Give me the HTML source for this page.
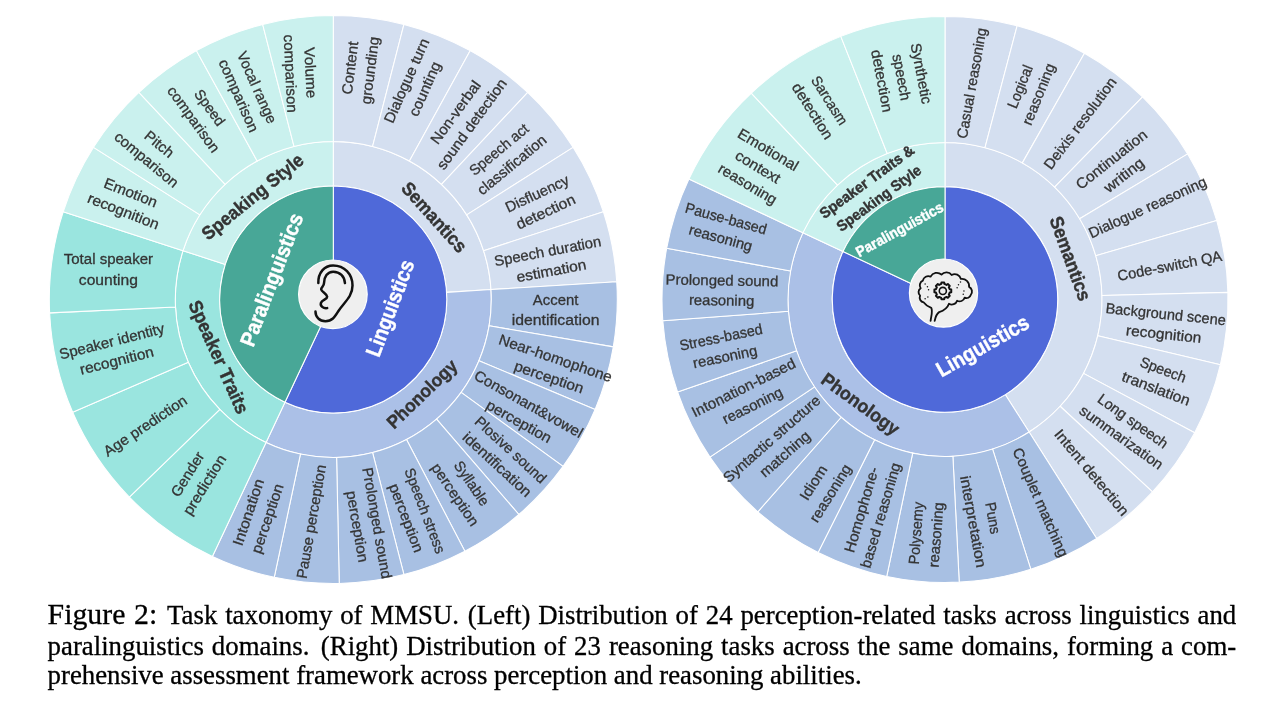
<!DOCTYPE html>
<html lang="en"><head><meta charset="utf-8"><title>Figure 2: Task taxonomy of MMSU</title>
<style>
html,body{margin:0;padding:0;background:#fff}
body{width:1274px;height:702px;position:relative;overflow:hidden}
svg{position:absolute;left:0;top:0;display:block}
text{font-family:"Liberation Sans",sans-serif;text-anchor:middle}
text.t{stroke-width:0.3px}
text.b{font-weight:bold;stroke-width:0.4px}
.cap{position:absolute;left:47.6px;width:1188.6px;-webkit-text-stroke:0.3px #000;font-family:"Liberation Serif",serif;font-size:26.8px;color:#000;white-space:nowrap;text-align:justify;text-align-last:justify;line-height:30px;height:30px}
.cap.last{text-align:left;text-align-last:left}
.cap .lab{font-size:29.8px;margin-right:2.5px}
</style></head><body>
<svg width="1274" height="702" viewBox="0 0 1274 702"><g stroke="#fff" stroke-width="1.05" stroke-linejoin="round"><path d="M333.30 141.50A158.0 158.0 0 0 1 490.99 289.58L446.58 292.37A113.5 113.5 0 0 0 333.30 186.00Z" fill="#D4DFF0"/><path d="M333.30 15.50A284.0 284.0 0 0 1 403.93 24.42L372.59 146.46A158.0 158.0 0 0 0 333.30 141.50Z" fill="#D4DFF0"/><path d="M403.93 24.42A284.0 284.0 0 0 1 470.12 50.63L409.42 161.04A158.0 158.0 0 0 0 372.59 146.46Z" fill="#D4DFF0"/><path d="M470.12 50.63A284.0 284.0 0 0 1 527.71 92.47L441.46 184.32A158.0 158.0 0 0 0 409.42 161.04Z" fill="#D4DFF0"/><path d="M527.71 92.47A284.0 284.0 0 0 1 573.09 147.33L466.70 214.84A158.0 158.0 0 0 0 441.46 184.32Z" fill="#D4DFF0"/><path d="M573.09 147.33A284.0 284.0 0 0 1 603.40 211.74L483.57 250.68A158.0 158.0 0 0 0 466.70 214.84Z" fill="#D4DFF0"/><path d="M603.40 211.74A284.0 284.0 0 0 1 616.74 281.67L490.99 289.58A158.0 158.0 0 0 0 483.57 250.68Z" fill="#D4DFF0"/><path d="M490.99 289.58A158.0 158.0 0 0 1 266.03 442.46L284.97 402.20A113.5 113.5 0 0 0 446.58 292.37Z" fill="#ABC0E7"/><path d="M616.74 281.67A284.0 284.0 0 0 1 613.32 346.86L489.09 325.85A158.0 158.0 0 0 0 490.99 289.58Z" fill="#A8C0E3"/><path d="M613.32 346.86A284.0 284.0 0 0 1 595.11 409.55L478.95 360.73A158.0 158.0 0 0 0 489.09 325.85Z" fill="#A8C0E3"/><path d="M595.11 409.55A284.0 284.0 0 0 1 563.06 466.43L461.12 392.37A158.0 158.0 0 0 0 478.95 360.73Z" fill="#A8C0E3"/><path d="M563.06 466.43A284.0 284.0 0 0 1 518.87 514.49L436.54 419.11A158.0 158.0 0 0 0 461.12 392.37Z" fill="#A8C0E3"/><path d="M518.87 514.49A284.0 284.0 0 0 1 464.88 551.18L406.50 439.52A158.0 158.0 0 0 0 436.54 419.11Z" fill="#A8C0E3"/><path d="M464.88 551.18A284.0 284.0 0 0 1 403.93 574.58L372.59 452.54A158.0 158.0 0 0 0 406.50 439.52Z" fill="#A8C0E3"/><path d="M403.93 574.58A284.0 284.0 0 0 1 339.25 583.44L336.61 457.47A158.0 158.0 0 0 0 372.59 452.54Z" fill="#A8C0E3"/><path d="M339.25 583.44A284.0 284.0 0 0 1 274.25 577.29L300.45 454.05A158.0 158.0 0 0 0 336.61 457.47Z" fill="#A8C0E3"/><path d="M274.25 577.29A284.0 284.0 0 0 1 212.38 556.47L266.03 442.46A158.0 158.0 0 0 0 300.45 454.05Z" fill="#A8C0E3"/><path d="M266.03 442.46A158.0 158.0 0 0 1 183.03 250.68L225.36 264.43A113.5 113.5 0 0 0 284.97 402.20Z" fill="#9AE5DF"/><path d="M212.38 556.47A284.0 284.0 0 0 1 129.35 497.14L219.84 409.45A158.0 158.0 0 0 0 266.03 442.46Z" fill="#9AE5DF"/><path d="M129.35 497.14A284.0 284.0 0 0 1 72.66 412.29L188.29 362.25A158.0 158.0 0 0 0 219.84 409.45Z" fill="#9AE5DF"/><path d="M72.66 412.29A284.0 284.0 0 0 1 49.62 312.88L175.48 306.94A158.0 158.0 0 0 0 188.29 362.25Z" fill="#9AE5DF"/><path d="M49.62 312.88A284.0 284.0 0 0 1 63.20 211.74L183.03 250.68A158.0 158.0 0 0 0 175.48 306.94Z" fill="#9AE5DF"/><path d="M183.03 250.68A158.0 158.0 0 0 1 333.30 141.50L333.30 186.00A113.5 113.5 0 0 0 225.36 264.43Z" fill="#CAF1EE"/><path d="M63.20 211.74A284.0 284.0 0 0 1 93.51 147.33L199.90 214.84A158.0 158.0 0 0 0 183.03 250.68Z" fill="#CAF1EE"/><path d="M93.51 147.33A284.0 284.0 0 0 1 138.89 92.47L225.14 184.32A158.0 158.0 0 0 0 199.90 214.84Z" fill="#CAF1EE"/><path d="M138.89 92.47A284.0 284.0 0 0 1 196.48 50.63L257.18 161.04A158.0 158.0 0 0 0 225.14 184.32Z" fill="#CAF1EE"/><path d="M196.48 50.63A284.0 284.0 0 0 1 262.67 24.42L294.01 146.46A158.0 158.0 0 0 0 257.18 161.04Z" fill="#CAF1EE"/><path d="M262.67 24.42A284.0 284.0 0 0 1 333.30 15.50L333.30 141.50A158.0 158.0 0 0 0 294.01 146.46Z" fill="#CAF1EE"/><path d="M333.30 299.50L333.30 186.00A113.5 113.5 0 1 1 284.97 402.20Z" fill="#4F69D9"/><path d="M333.30 299.50L284.97 402.20A113.5 113.5 0 0 1 333.30 186.00Z" fill="#48A797"/><path d="M945.00 142.50A157.0 157.0 0 0 1 1029.12 432.06L1005.39 394.66A112.7 112.7 0 0 0 945.00 186.80Z" fill="#D4DFF0"/><path d="M945.00 16.50A283.0 283.0 0 0 1 1017.10 25.84L985.00 147.68A157.0 157.0 0 0 0 945.00 142.50Z" fill="#D4DFF0"/><path d="M1017.10 25.84A283.0 283.0 0 0 1 1084.44 53.24L1022.36 162.88A157.0 157.0 0 0 0 985.00 147.68Z" fill="#D4DFF0"/><path d="M1084.44 53.24A283.0 283.0 0 0 1 1142.58 96.89L1054.61 187.10A157.0 157.0 0 0 0 1022.36 162.88Z" fill="#D4DFF0"/><path d="M1142.58 96.89A283.0 283.0 0 0 1 1187.68 153.91L1079.63 218.73A157.0 157.0 0 0 0 1054.61 187.10Z" fill="#D4DFF0"/><path d="M1187.68 153.91A283.0 283.0 0 0 1 1216.76 220.55L1095.77 255.70A157.0 157.0 0 0 0 1079.63 218.73Z" fill="#D4DFF0"/><path d="M1216.76 220.55A283.0 283.0 0 0 1 1227.91 292.39L1101.95 295.55A157.0 157.0 0 0 0 1095.77 255.70Z" fill="#D4DFF0"/><path d="M1227.91 292.39A283.0 283.0 0 0 1 1220.39 364.70L1097.78 335.67A157.0 157.0 0 0 0 1101.95 295.55Z" fill="#D4DFF0"/><path d="M1220.39 364.70A283.0 283.0 0 0 1 1194.69 432.71L1083.52 373.40A157.0 157.0 0 0 0 1097.78 335.67Z" fill="#D4DFF0"/><path d="M1194.69 432.71A283.0 283.0 0 0 1 1152.51 491.93L1060.12 406.25A157.0 157.0 0 0 0 1083.52 373.40Z" fill="#D4DFF0"/><path d="M1152.51 491.93A283.0 283.0 0 0 1 1096.64 538.44L1029.12 432.06A157.0 157.0 0 0 0 1060.12 406.25Z" fill="#D4DFF0"/><path d="M1029.12 432.06A157.0 157.0 0 0 1 802.94 232.65L843.03 251.51A112.7 112.7 0 0 0 1005.39 394.66Z" fill="#ABC0E7"/><path d="M1096.64 538.44A283.0 283.0 0 0 1 1030.76 569.19L992.58 449.12A157.0 157.0 0 0 0 1029.12 432.06Z" fill="#A8C0E3"/><path d="M1030.76 569.19A283.0 283.0 0 0 1 959.22 582.14L952.89 456.30A157.0 157.0 0 0 0 992.58 449.12Z" fill="#A8C0E3"/><path d="M959.22 582.14A283.0 283.0 0 0 1 886.74 576.44L912.68 453.14A157.0 157.0 0 0 0 952.89 456.30Z" fill="#A8C0E3"/><path d="M886.74 576.44A283.0 283.0 0 0 1 818.11 552.46L874.60 439.83A157.0 157.0 0 0 0 912.68 453.14Z" fill="#A8C0E3"/><path d="M818.11 552.46A283.0 283.0 0 0 1 757.85 511.78L841.17 417.27A157.0 157.0 0 0 0 874.60 439.83Z" fill="#A8C0E3"/><path d="M757.85 511.78A283.0 283.0 0 0 1 709.94 457.10L814.60 386.93A157.0 157.0 0 0 0 841.17 417.27Z" fill="#A8C0E3"/><path d="M709.94 457.10A283.0 283.0 0 0 1 677.55 392.01L796.63 350.82A157.0 157.0 0 0 0 814.60 386.93Z" fill="#A8C0E3"/><path d="M677.55 392.01A283.0 283.0 0 0 1 662.80 320.82L788.45 311.33A157.0 157.0 0 0 0 796.63 350.82Z" fill="#A8C0E3"/><path d="M662.80 320.82A283.0 283.0 0 0 1 666.69 248.22L790.60 271.05A157.0 157.0 0 0 0 788.45 311.33Z" fill="#A8C0E3"/><path d="M666.69 248.22A283.0 283.0 0 0 1 688.93 179.00L802.94 232.65A157.0 157.0 0 0 0 790.60 271.05Z" fill="#A8C0E3"/><path d="M802.94 232.65A157.0 157.0 0 0 1 945.00 142.50L945.00 186.80A112.7 112.7 0 0 0 843.03 251.51Z" fill="#CAF1EE"/><path d="M688.93 179.00A283.0 283.0 0 0 1 751.27 93.20L837.53 185.05A157.0 157.0 0 0 0 802.94 232.65Z" fill="#CAF1EE"/><path d="M751.27 93.20A283.0 283.0 0 0 1 840.82 36.37L887.20 153.53A157.0 157.0 0 0 0 837.53 185.05Z" fill="#CAF1EE"/><path d="M840.82 36.37A283.0 283.0 0 0 1 945.00 16.50L945.00 142.50A157.0 157.0 0 0 0 887.20 153.53Z" fill="#CAF1EE"/><path d="M945.00 299.50L945.00 186.80A112.7 112.7 0 1 1 843.03 251.51Z" fill="#4F69D9"/><path d="M945.00 299.50L843.03 251.51A112.7 112.7 0 0 1 945.00 186.80Z" fill="#48A797"/></g><g transform="translate(359.9 69.2) rotate(-82.8)"><text class="t" y="-4.9" font-size="14.76" fill="#343434" stroke="#343434" textLength="53.3" lengthAdjust="spacingAndGlyphs">Content</text><text class="t" y="15.1" font-size="14.76" fill="#343434" stroke="#343434" textLength="67.8" lengthAdjust="spacingAndGlyphs">grounding</text></g><g transform="translate(415.6 84.8) rotate(-66.0)"><text class="t" y="-4.9" font-size="14.76" fill="#343434" stroke="#343434" textLength="90.8" lengthAdjust="spacingAndGlyphs">Dialogue turn</text><text class="t" y="15.1" font-size="14.76" fill="#343434" stroke="#343434" textLength="58.0" lengthAdjust="spacingAndGlyphs">counting</text></g><g transform="translate(463.6 118.1) rotate(-54.0)"><text class="t" y="-4.9" font-size="14.76" fill="#343434" stroke="#343434" textLength="74.1" lengthAdjust="spacingAndGlyphs">Non-verbal</text><text class="t" y="15.1" font-size="14.76" fill="#343434" stroke="#343434" textLength="108.1" lengthAdjust="spacingAndGlyphs">sound detection</text></g><g transform="translate(505.3 157.1) rotate(-39.6)"><text class="t" y="-4.9" font-size="14.76" fill="#343434" stroke="#343434" textLength="72.0" lengthAdjust="spacingAndGlyphs">Speech act</text><text class="t" y="15.1" font-size="14.76" fill="#343434" stroke="#343434" textLength="84.7" lengthAdjust="spacingAndGlyphs">classification</text></g><g transform="translate(541.4 202.6) rotate(-25.2)"><text class="t" y="-4.9" font-size="14.76" fill="#343434" stroke="#343434" textLength="68.5" lengthAdjust="spacingAndGlyphs">Disfluency</text><text class="t" y="15.1" font-size="14.76" fill="#343434" stroke="#343434" textLength="63.5" lengthAdjust="spacingAndGlyphs">detection</text></g><g transform="translate(549.5 260.9) rotate(-10.8)"><text class="t" y="-4.9" font-size="14.76" fill="#343434" stroke="#343434" textLength="108.5" lengthAdjust="spacingAndGlyphs">Speech duration</text><text class="t" y="15.1" font-size="14.76" fill="#343434" stroke="#343434" textLength="70.7" lengthAdjust="spacingAndGlyphs">estimation</text></g><g transform="translate(555.6 309.7) rotate(0.0)"><text class="t" y="-4.9" font-size="14.76" fill="#343434" stroke="#343434" textLength="45.5" lengthAdjust="spacingAndGlyphs">Accent</text><text class="t" y="15.1" font-size="14.76" fill="#343434" stroke="#343434" textLength="87.7" lengthAdjust="spacingAndGlyphs">identification</text></g><g transform="translate(552.3 367.6) rotate(19.0)"><text class="t" y="-4.9" font-size="14.76" fill="#343434" stroke="#343434" textLength="118.5" lengthAdjust="spacingAndGlyphs">Near-homophone</text><text class="t" y="15.1" font-size="14.76" fill="#343434" stroke="#343434" textLength="72.3" lengthAdjust="spacingAndGlyphs">perception</text></g><g transform="translate(523.8 412.7) rotate(29.4)"><text class="t" y="-4.9" font-size="14.76" fill="#343434" stroke="#343434" textLength="122.0" lengthAdjust="spacingAndGlyphs">Consonant&amp;vowel</text><text class="t" y="15.1" font-size="14.76" fill="#343434" stroke="#343434" textLength="72.3" lengthAdjust="spacingAndGlyphs">perception</text></g><g transform="translate(504.0 457.1) rotate(42.6)"><text class="t" y="-4.9" font-size="14.76" fill="#343434" stroke="#343434" textLength="91.1" lengthAdjust="spacingAndGlyphs">Plosive sound</text><text class="t" y="15.1" font-size="14.76" fill="#343434" stroke="#343434" textLength="87.7" lengthAdjust="spacingAndGlyphs">identification</text></g><g transform="translate(463.5 488.9) rotate(55.8)"><text class="t" y="-4.9" font-size="14.76" fill="#343434" stroke="#343434" textLength="50.7" lengthAdjust="spacingAndGlyphs">Syllable</text><text class="t" y="15.1" font-size="14.76" fill="#343434" stroke="#343434" textLength="72.3" lengthAdjust="spacingAndGlyphs">perception</text></g><g transform="translate(415.7 514.3) rotate(69.0)"><text class="t" y="-4.9" font-size="14.76" fill="#343434" stroke="#343434" textLength="89.9" lengthAdjust="spacingAndGlyphs">Speech stress</text><text class="t" y="15.1" font-size="14.76" fill="#343434" stroke="#343434" textLength="72.3" lengthAdjust="spacingAndGlyphs">perception</text></g><g transform="translate(367.3 524.7) rotate(80.0)"><text class="t" y="-4.9" font-size="14.76" fill="#343434" stroke="#343434" textLength="112.6" lengthAdjust="spacingAndGlyphs">Prolonged sound</text><text class="t" y="15.1" font-size="14.76" fill="#343434" stroke="#343434" textLength="72.3" lengthAdjust="spacingAndGlyphs">perception</text></g><g transform="translate(311.2 521.6) rotate(-80.2)"><text class="t" y="5.1" font-size="14.76" fill="#343434" stroke="#343434" textLength="115.2" lengthAdjust="spacingAndGlyphs">Pause perception</text></g><g transform="translate(257.8 515.4) rotate(-71.4)"><text class="t" y="-4.9" font-size="14.76" fill="#343434" stroke="#343434" textLength="69.3" lengthAdjust="spacingAndGlyphs">Intonation</text><text class="t" y="15.1" font-size="14.76" fill="#343434" stroke="#343434" textLength="72.3" lengthAdjust="spacingAndGlyphs">perception</text></g><g transform="translate(196.0 479.5) rotate(-58.0)"><text class="t" y="-4.9" font-size="14.76" fill="#343434" stroke="#343434" textLength="49.6" lengthAdjust="spacingAndGlyphs">Gender</text><text class="t" y="15.1" font-size="14.76" fill="#343434" stroke="#343434" textLength="68.0" lengthAdjust="spacingAndGlyphs">prediction</text></g><g transform="translate(145.2 425.7) rotate(-33.8)"><text class="t" y="5.1" font-size="14.76" fill="#343434" stroke="#343434" textLength="96.9" lengthAdjust="spacingAndGlyphs">Age prediction</text></g><g transform="translate(114.2 350.9) rotate(-14.3)"><text class="t" y="-4.9" font-size="14.76" fill="#343434" stroke="#343434" textLength="107.7" lengthAdjust="spacingAndGlyphs">Speaker identity</text><text class="t" y="15.1" font-size="14.76" fill="#343434" stroke="#343434" textLength="75.6" lengthAdjust="spacingAndGlyphs">recognition</text></g><g transform="translate(108.4 269.4) rotate(0.0)"><text class="t" y="-5.2" font-size="15.03" fill="#343434" stroke="#343434" textLength="89.3" lengthAdjust="spacingAndGlyphs">Total speaker</text><text class="t" y="15.6" font-size="15.03" fill="#343434" stroke="#343434" textLength="59.1" lengthAdjust="spacingAndGlyphs">counting</text></g><g transform="translate(127.1 201.8) rotate(21.5)"><text class="t" y="-4.9" font-size="14.76" fill="#343434" stroke="#343434" textLength="56.2" lengthAdjust="spacingAndGlyphs">Emotion</text><text class="t" y="15.1" font-size="14.76" fill="#343434" stroke="#343434" textLength="75.6" lengthAdjust="spacingAndGlyphs">recognition</text></g><g transform="translate(153.0 151.8) rotate(39.6)"><text class="t" y="-4.9" font-size="14.76" fill="#343434" stroke="#343434" textLength="33.1" lengthAdjust="spacingAndGlyphs">Pitch</text><text class="t" y="15.1" font-size="14.76" fill="#343434" stroke="#343434" textLength="78.2" lengthAdjust="spacingAndGlyphs">comparison</text></g><g transform="translate(201.7 113.4) rotate(54.0)"><text class="t" y="-4.9" font-size="14.76" fill="#343434" stroke="#343434" textLength="41.1" lengthAdjust="spacingAndGlyphs">Speed</text><text class="t" y="15.1" font-size="14.76" fill="#343434" stroke="#343434" textLength="78.2" lengthAdjust="spacingAndGlyphs">comparison</text></g><g transform="translate(247.9 91.5) rotate(66.0)"><text class="t" y="-4.9" font-size="14.76" fill="#343434" stroke="#343434" textLength="77.0" lengthAdjust="spacingAndGlyphs">Vocal range</text><text class="t" y="15.1" font-size="14.76" fill="#343434" stroke="#343434" textLength="78.2" lengthAdjust="spacingAndGlyphs">comparison</text></g><g transform="translate(300.6 73.2) rotate(87.3)"><text class="t" y="-4.9" font-size="14.76" fill="#343434" stroke="#343434" textLength="50.9" lengthAdjust="spacingAndGlyphs">Volume</text><text class="t" y="15.1" font-size="14.76" fill="#343434" stroke="#343434" textLength="78.2" lengthAdjust="spacingAndGlyphs">comparison</text></g><g transform="translate(971.7 83.2) rotate(-79.8)"><text class="t" y="5.1" font-size="14.76" fill="#343434" stroke="#343434" textLength="112.3" lengthAdjust="spacingAndGlyphs">Casual reasoning</text></g><g transform="translate(1029.2 90.4) rotate(-67.9)"><text class="t" y="-4.9" font-size="14.76" fill="#343434" stroke="#343434" textLength="45.4" lengthAdjust="spacingAndGlyphs">Logical</text><text class="t" y="15.1" font-size="14.76" fill="#343434" stroke="#343434" textLength="65.3" lengthAdjust="spacingAndGlyphs">reasoning</text></g><g transform="translate(1080.1 123.2) rotate(-53.1)"><text class="t" y="5.1" font-size="14.76" fill="#343434" stroke="#343434" textLength="110.5" lengthAdjust="spacingAndGlyphs">Deixis resolution</text></g><g transform="translate(1117.6 167.3) rotate(-38.3)"><text class="t" y="-4.9" font-size="14.76" fill="#343434" stroke="#343434" textLength="86.3" lengthAdjust="spacingAndGlyphs">Continuation</text><text class="t" y="15.1" font-size="14.76" fill="#343434" stroke="#343434" textLength="46.7" lengthAdjust="spacingAndGlyphs">writing</text></g><g transform="translate(1147.5 207.2) rotate(-24.6)"><text class="t" y="5.1" font-size="14.76" fill="#343434" stroke="#343434" textLength="127.6" lengthAdjust="spacingAndGlyphs">Dialogue reasoning</text></g><g transform="translate(1169.7 265.8) rotate(-11.0)"><text class="t" y="5.1" font-size="14.76" fill="#343434" stroke="#343434" textLength="106.1" lengthAdjust="spacingAndGlyphs">Code-switch QA</text></g><g transform="translate(1164.7 324.0) rotate(5.9)"><text class="t" y="-4.9" font-size="14.76" fill="#343434" stroke="#343434" textLength="120.8" lengthAdjust="spacingAndGlyphs">Background scene</text><text class="t" y="15.1" font-size="14.76" fill="#343434" stroke="#343434" textLength="75.6" lengthAdjust="spacingAndGlyphs">recognition</text></g><g transform="translate(1159.6 379.0) rotate(20.7)"><text class="t" y="-4.9" font-size="14.76" fill="#343434" stroke="#343434" textLength="48.0" lengthAdjust="spacingAndGlyphs">Speech</text><text class="t" y="15.1" font-size="14.76" fill="#343434" stroke="#343434" textLength="71.6" lengthAdjust="spacingAndGlyphs">translation</text></g><g transform="translate(1127.2 429.2) rotate(35.5)"><text class="t" y="-4.9" font-size="14.76" fill="#343434" stroke="#343434" textLength="82.5" lengthAdjust="spacingAndGlyphs">Long speech</text><text class="t" y="15.1" font-size="14.76" fill="#343434" stroke="#343434" textLength="98.9" lengthAdjust="spacingAndGlyphs">summarization</text></g><g transform="translate(1091.8 472.4) rotate(50.2)"><text class="t" y="5.1" font-size="14.76" fill="#343434" stroke="#343434" textLength="107.2" lengthAdjust="spacingAndGlyphs">Intent detection</text></g><g transform="translate(1040.6 502.3) rotate(66.3)"><text class="t" y="5.1" font-size="14.76" fill="#343434" stroke="#343434" textLength="117.4" lengthAdjust="spacingAndGlyphs">Couplet matching</text></g><g transform="translate(983.2 519.8) rotate(79.7)"><text class="t" y="-4.9" font-size="14.76" fill="#343434" stroke="#343434" textLength="32.1" lengthAdjust="spacingAndGlyphs">Puns</text><text class="t" y="15.1" font-size="14.76" fill="#343434" stroke="#343434" textLength="93.0" lengthAdjust="spacingAndGlyphs">interpretation</text></g><g transform="translate(926.0 534.0) rotate(-85.5)"><text class="t" y="-4.9" font-size="14.76" fill="#343434" stroke="#343434" textLength="62.6" lengthAdjust="spacingAndGlyphs">Polysemy</text><text class="t" y="15.1" font-size="14.76" fill="#343434" stroke="#343434" textLength="65.3" lengthAdjust="spacingAndGlyphs">reasoning</text></g><g transform="translate(871.0 512.5) rotate(-73.5)"><text class="t" y="-4.9" font-size="14.76" fill="#343434" stroke="#343434" textLength="88.3" lengthAdjust="spacingAndGlyphs">Homophone-</text><text class="t" y="15.1" font-size="14.76" fill="#343434" stroke="#343434" textLength="108.7" lengthAdjust="spacingAndGlyphs">based reasoning</text></g><g transform="translate(821.8 487.9) rotate(-58.0)"><text class="t" y="-4.9" font-size="14.76" fill="#343434" stroke="#343434" textLength="38.3" lengthAdjust="spacingAndGlyphs">Idiom</text><text class="t" y="15.1" font-size="14.76" fill="#343434" stroke="#343434" textLength="65.3" lengthAdjust="spacingAndGlyphs">reasoning</text></g><g transform="translate(778.2 446.4) rotate(-41.2)"><text class="t" y="-4.9" font-size="14.76" fill="#343434" stroke="#343434" textLength="123.8" lengthAdjust="spacingAndGlyphs">Syntactic structure</text><text class="t" y="15.1" font-size="14.76" fill="#343434" stroke="#343434" textLength="61.7" lengthAdjust="spacingAndGlyphs">matching</text></g><g transform="translate(748.0 396.5) rotate(-26.5)"><text class="t" y="-4.9" font-size="14.76" fill="#343434" stroke="#343434" textLength="114.0" lengthAdjust="spacingAndGlyphs">Intonation-based</text><text class="t" y="15.1" font-size="14.76" fill="#343434" stroke="#343434" textLength="65.3" lengthAdjust="spacingAndGlyphs">reasoning</text></g><g transform="translate(723.0 346.9) rotate(-11.7)"><text class="t" y="-4.9" font-size="14.76" fill="#343434" stroke="#343434" textLength="84.2" lengthAdjust="spacingAndGlyphs">Stress-based</text><text class="t" y="15.1" font-size="14.76" fill="#343434" stroke="#343434" textLength="65.3" lengthAdjust="spacingAndGlyphs">reasoning</text></g><g transform="translate(721.8 290.3) rotate(1.0)"><text class="t" y="-4.9" font-size="14.76" fill="#343434" stroke="#343434" textLength="112.6" lengthAdjust="spacingAndGlyphs">Prolonged sound</text><text class="t" y="15.1" font-size="14.76" fill="#343434" stroke="#343434" textLength="65.3" lengthAdjust="spacingAndGlyphs">reasoning</text></g><g transform="translate(723.4 228.1) rotate(15.5)"><text class="t" y="-4.9" font-size="14.76" fill="#343434" stroke="#343434" textLength="83.8" lengthAdjust="spacingAndGlyphs">Pause-based</text><text class="t" y="15.1" font-size="14.76" fill="#343434" stroke="#343434" textLength="65.3" lengthAdjust="spacingAndGlyphs">reasoning</text></g><g transform="translate(758.0 166.8) rotate(31.0)"><text class="t" y="-14.9" font-size="14.76" fill="#343434" stroke="#343434" textLength="67.8" lengthAdjust="spacingAndGlyphs">Emotional</text><text class="t" y="5.1" font-size="14.76" fill="#343434" stroke="#343434" textLength="49.8" lengthAdjust="spacingAndGlyphs">context</text><text class="t" y="25.1" font-size="14.76" fill="#343434" stroke="#343434" textLength="65.3" lengthAdjust="spacingAndGlyphs">reasoning</text></g><g transform="translate(821.1 105.8) rotate(57.6)"><text class="t" y="-4.9" font-size="14.76" fill="#343434" stroke="#343434" textLength="55.0" lengthAdjust="spacingAndGlyphs">Sarcasm</text><text class="t" y="15.1" font-size="14.76" fill="#343434" stroke="#343434" textLength="63.5" lengthAdjust="spacingAndGlyphs">detection</text></g><g transform="translate(901.7 77.2) rotate(79.2)"><text class="t" y="-14.9" font-size="14.76" fill="#343434" stroke="#343434" textLength="61.5" lengthAdjust="spacingAndGlyphs">Synthetic</text><text class="t" y="5.1" font-size="14.76" fill="#343434" stroke="#343434" textLength="46.9" lengthAdjust="spacingAndGlyphs">speech</text><text class="t" y="25.1" font-size="14.76" fill="#343434" stroke="#343434" textLength="63.5" lengthAdjust="spacingAndGlyphs">detection</text></g><g transform="translate(252.6 196.7) rotate(-39.0)"><text class="b" y="6.4" font-size="18.72" fill="#343434" stroke="#343434" textLength="125.0" lengthAdjust="spacingAndGlyphs">Speaking Style</text></g><g transform="translate(434.2 217.2) rotate(48.0)"><text class="b" y="6.4" font-size="18.72" fill="#343434" stroke="#343434" textLength="87.6" lengthAdjust="spacingAndGlyphs">Semantics</text></g><g transform="translate(422.0 394.0) rotate(-44.0)"><text class="b" y="6.3" font-size="18.36" fill="#343434" stroke="#343434" textLength="90.0" lengthAdjust="spacingAndGlyphs">Phonology</text></g><g transform="translate(218.8 357.0) rotate(66.0)"><text class="b" y="6.5" font-size="18.90" fill="#343434" stroke="#343434" textLength="121.9" lengthAdjust="spacingAndGlyphs">Speaker Traits</text></g><g transform="translate(271.5 279.6) rotate(-69.0)"><text class="b" y="7.4" font-size="21.42" fill="#fff" stroke="#fff" textLength="140.6" lengthAdjust="spacingAndGlyphs">Paralinguistics</text></g><g transform="translate(390.0 308.1) rotate(-69.4)"><text class="b" y="7.4" font-size="21.51" fill="#fff" stroke="#fff" textLength="101.6" lengthAdjust="spacingAndGlyphs">Linguistics</text></g><g transform="translate(872.8 189.8) rotate(-36.2)"><text class="b" y="-5.0" font-size="15.12" fill="#343434" stroke="#343434" textLength="113.2" lengthAdjust="spacingAndGlyphs">Speaker Traits &amp;</text><text class="b" y="15.5" font-size="15.12" fill="#343434" stroke="#343434" textLength="101.0" lengthAdjust="spacingAndGlyphs">Speaking Style</text></g><g transform="translate(899.5 229.4) rotate(-29.0)"><text class="b" y="5.1" font-size="14.85" fill="#fff" stroke="#fff" textLength="97.5" lengthAdjust="spacingAndGlyphs">Paralinguistics</text></g><g transform="translate(982.5 345.8) rotate(-29.5)"><text class="b" y="7.5" font-size="21.78" fill="#fff" stroke="#fff" textLength="102.9" lengthAdjust="spacingAndGlyphs">Linguistics</text></g><g transform="translate(1070.4 258.5) rotate(70.0)"><text class="b" y="6.5" font-size="18.90" fill="#343434" stroke="#343434" textLength="88.5" lengthAdjust="spacingAndGlyphs">Semantics</text></g><g transform="translate(860.5 403.9) rotate(36.0)"><text class="b" y="6.4" font-size="18.63" fill="#343434" stroke="#343434" textLength="91.3" lengthAdjust="spacingAndGlyphs">Phonology</text></g><circle cx="332.9" cy="294.3" r="34.3" fill="#EFEFEF" stroke="#fff" stroke-width="1.2"/>
<circle cx="943.5" cy="293.1" r="34.1" fill="#EFEFEF" stroke="#fff" stroke-width="1.2"/>
<g transform="translate(283 250) scale(0.14245)" fill="none" stroke="#111" stroke-width="17.5" stroke-linecap="round" stroke-linejoin="round"><path d="M248 232C246 160 290 108 352 108C430 108 488 170 488 250C488 330 425 370 388 430C362 472 345 500 298 500C255 500 228 470 228 432"/><path d="M435 232C432 185 400 152 352 152C312 152 288 190 288 232C288 258 266 262 268 276C270 294 308 304 310 328C311 348 274 348 266 372C260 392 282 412 310 408"/></g>
<g transform="translate(895 245) scale(0.14245) translate(352 368) scale(0.955) translate(-352 -368)" fill="none" stroke="#111" stroke-width="12" stroke-linecap="round" stroke-linejoin="round"><path d="M245 540C250 500 262 470 250 445Q215 432 195 405A36 36 0 0 1 168 355A35 35 0 0 1 172 300A37 37 0 0 1 188 245A41 41 0 0 1 245 215A52 52 0 0 1 325 200A48 48 0 0 1 400 203A47 47 0 0 1 468 232A53 53 0 0 1 528 290A39 39 0 0 1 540 350A32 32 0 0 1 495 370A38 38 0 0 1 440 392A41 41 0 0 1 380 415C368 450 335 468 308 476C290 488 280 515 275 540" stroke-width="13.5"/><path d="M323 269L325 258L345 258L347 269L362 276L372 269L386 283L379 293L386 308L397 310L397 330L386 332L379 347L386 357L372 371L362 364L347 371L345 382L325 382L323 371L308 364L298 371L284 357L291 347L284 332L273 330L273 310L284 308L291 293L284 283L298 269L308 276Z" stroke-width="14.5"/><circle cx="335" cy="320" r="26" stroke-width="11.5"/><circle cx="205" cy="270" r="5.5" fill="#111" stroke="none"/><circle cx="222" cy="290" r="5.5" fill="#111" stroke="none"/><circle cx="230" cy="312" r="5.5" fill="#111" stroke="none"/><circle cx="205" cy="378" r="5.5" fill="#111" stroke="none"/><circle cx="225" cy="365" r="5.5" fill="#111" stroke="none"/><circle cx="465" cy="255" r="5.5" fill="#111" stroke="none"/><circle cx="450" cy="275" r="5.5" fill="#111" stroke="none"/><circle cx="440" cy="297" r="5.5" fill="#111" stroke="none"/><circle cx="490" cy="320" r="5.5" fill="#111" stroke="none"/><circle cx="485" cy="345" r="5.5" fill="#111" stroke="none"/></g></svg>
<div class="cap" style="top:599px"><span class="lab">Figure 2:</span> Task taxonomy of MMSU.<span style="margin-left:1px"></span> (Left) Distribution of 24 perception-related tasks across linguistics and</div>
<div class="cap" style="top:630.5px">paralinguistics domains.<span style="margin-left:3.5px"></span> (Right) Distribution of 23 reasoning tasks across the same domains, forming a com-</div>
<div class="cap last" style="top:660px">prehensive assessment framework across perception and reasoning abilities.</div>

</body></html>
